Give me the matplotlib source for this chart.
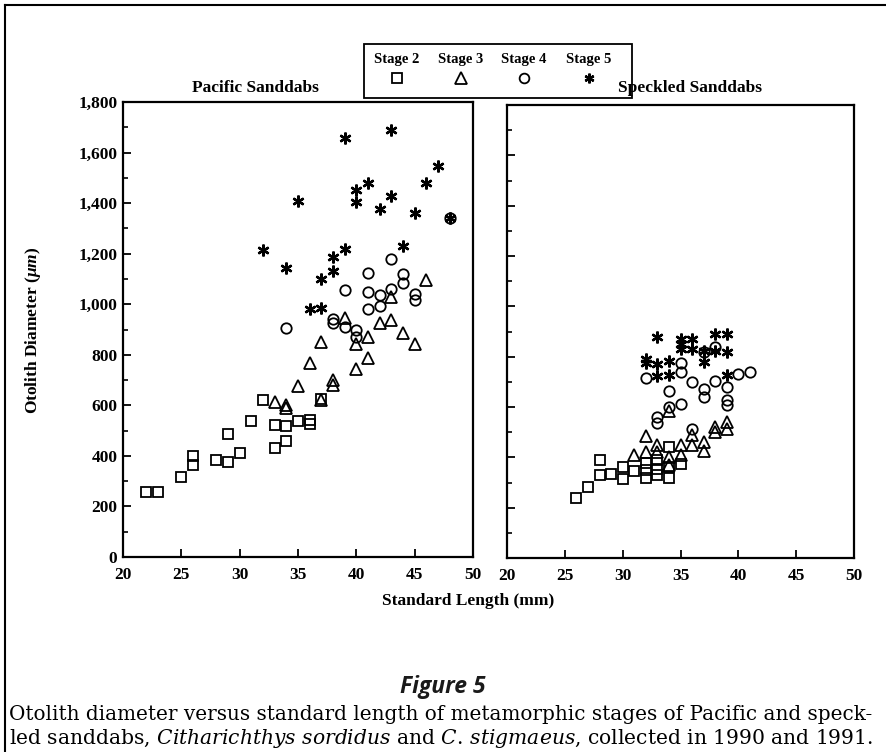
import matplotlib
matplotlib.use("Agg")
import matplotlib.pyplot as plt
from matplotlib.lines import Line2D
from matplotlib.patches import Rectangle
from matplotlib.ticker import MultipleLocator, FuncFormatter

# ---------------- data ----------------
pac_s2_x = [22, 23, 25, 26, 26, 28, 29, 29, 30, 31, 32, 33, 33, 34, 34, 35, 36, 36, 37]
pac_s2_y = [258, 258, 315, 400, 364, 383, 374, 486, 410, 539, 620, 523, 430, 460, 519, 539, 541, 528, 627]

pac_s3_x = [33, 34, 34, 35, 36, 37, 37, 38, 38, 39, 40, 40, 41, 41, 42, 43, 43, 44, 45, 46]
pac_s3_y = [613, 601, 588, 676, 766, 849, 620, 700, 680, 946, 841, 742, 871, 789, 926, 937, 1029, 887, 842, 1095]

pac_s4_x = [34, 38, 38, 39, 39, 40, 40, 41, 41, 42, 42, 43, 44, 45, 45, 43, 41, 44, 48]
pac_s4_y = [904, 940, 925, 1055, 908, 900, 869, 1049, 983, 1036, 993, 1062, 1082, 1042, 1016, 1178, 1125, 1121, 1340]

pac_s5_x = [39, 43, 47, 46, 41, 40, 40, 35, 43, 42, 45, 32, 34, 39, 38, 38, 37, 44, 36, 37, 48]
pac_s5_y = [1657, 1688, 1547, 1480, 1480, 1453, 1404, 1408, 1428, 1375, 1361, 1213, 1145, 1217, 1185, 1132, 1099, 1229, 983, 987, 1340]

spk_s2_x = [26, 27, 28, 28, 29, 30, 30, 31, 32, 32, 32, 33, 33, 33, 34, 34, 34, 35]
spk_s2_y = [240, 283, 388, 329, 335, 362, 313, 346, 378, 349, 316, 391, 355, 329, 441, 362, 316, 375]

spk_s3_x = [31, 32, 32, 33, 33, 34, 34, 35, 35, 36, 36, 37, 37, 38, 38, 39, 39, 34]
spk_s3_y = [408, 483, 421, 448, 421, 401, 368, 448, 408, 448, 487, 461, 425, 520, 500, 540, 513, 586]

spk_s4_x = [32, 33, 33, 34, 34, 35, 35, 35, 36, 37, 37, 38, 38, 37, 39, 39, 39, 40, 41, 36]
spk_s4_y = [716, 560, 536, 599, 663, 613, 738, 775, 698, 672, 639, 705, 837, 817, 681, 628, 606, 731, 741, 514]

spk_s5_x = [33, 32, 32, 33, 33, 34, 34, 35, 35, 35, 36, 36, 37, 37, 38, 38, 39, 39, 39]
spk_s5_y = [879, 791, 774, 771, 725, 784, 729, 870, 850, 830, 870, 830, 824, 778, 892, 824, 892, 817, 729]

stage_labels = ["Stage 2", "Stage 3", "Stage 4", "Stage 5"]
panel_titles = ["Pacific Sanddabs", "Speckled Sanddabs"]
x_ticks = [20, 25, 30, 35, 40, 45, 50]
y_ticks = [0, 200, 400, 600, 800, 1000, 1200, 1400, 1600, 1800]

# ---------------- style ----------------
plt.rcParams["font.family"] = ["Liberation Serif", "DejaVu Serif"]
plt.rcParams["mathtext.fontset"] = "custom"
plt.rcParams["mathtext.rm"] = "DejaVu Serif"
plt.rcParams["mathtext.it"] = "DejaVu Serif:italic"
plt.rcParams["mathtext.bf"] = "Liberation Serif:bold"
plt.rcParams["mathtext.bfit"] = "Liberation Serif:bold:italic"

W, H = 886, 752
fig = plt.figure(figsize=(W / 100, H / 100), dpi=100)

def fx(px):
    return px / W

def fy(py):
    return 1 - py / H

ax1 = fig.add_axes([fx(123), fy(557), fx(473) - fx(123), fy(102) - fy(557)])
ax2 = fig.add_axes([fx(507), fy(558), fx(854) - fx(507), fy(105) - fy(558)])

mk = dict(linestyle="none", markerfacecolor="none", markeredgecolor="black", markeredgewidth=1.3)
star = dict(linestyle="none", color="black", markeredgewidth=1.7)

def draw(ax, s2x, s2y, s3x, s3y, s4x, s4y, s5x, s5y):
    ax.plot(s2x, s2y, marker="s", markersize=7.8, **mk)
    ax.plot(s3x, s3y, marker="^", markersize=9, **mk)
    ax.plot(s4x, s4y, marker="o", markersize=7.5, **mk)
    ax.plot(s5x, s5y, marker=(6, 2, 0), markersize=8.5, **star)

draw(ax1, pac_s2_x, pac_s2_y, pac_s3_x, pac_s3_y, pac_s4_x, pac_s4_y, pac_s5_x, pac_s5_y)
draw(ax2, spk_s2_x, spk_s2_y, spk_s3_x, spk_s3_y, spk_s4_x, spk_s4_y, spk_s5_x, spk_s5_y)

fmt = FuncFormatter(lambda v, p: f"{int(v):,}")
for i, ax in enumerate((ax1, ax2)):
    ax.set_xlim(20, 50)
    ax.set_ylim(0, 1800)
    ax.set_xticks(x_ticks)
    ax.set_yticks(y_ticks)
    ax.yaxis.set_minor_locator(MultipleLocator(100))
    ax.tick_params(axis="both", which="major", direction="in", length=6, width=1.3,
                   labelsize=12.5, pad=4)
    ax.tick_params(axis="y", which="minor", direction="in", length=3.5, width=1.2)
    ax.tick_params(axis="x", pad=7)
    for s in ax.spines.values():
        s.set_linewidth(1.6)
    for lab in ax.get_xticklabels() + ax.get_yticklabels():
        lab.set_fontweight("bold")
    ax.yaxis.set_major_formatter(fmt)
    if i == 1:
        ax.tick_params(axis="y", labelleft=False)

# panel titles
fig.text(fx(255), fy(88), panel_titles[0], ha="center", va="center", fontsize=12.5, fontweight="bold")
fig.text(fx(690), fy(88), panel_titles[1], ha="center", va="center", fontsize=12.5, fontweight="bold")

# axis labels
fig.text(fx(33), fy(330), r"Otolith Diameter ($\mathbfit{μm}$)", rotation=90, ha="center", va="center",
         fontsize=12.5, fontweight="bold")
fig.text(fx(468), fy(601), "Standard Length (mm)", ha="center", va="center", fontsize=12.5, fontweight="bold")

# legend box
fig.add_artist(Rectangle((fx(364), fy(98)), fx(632) - fx(364), fy(44) - fy(98), transform=fig.transFigure,
                         fill=False, edgecolor="black", linewidth=1.3))
leg_x = [397, 461, 524, 589]
leg_m = [dict(marker="s", markersize=7, **mk), dict(marker="^", markersize=8, **mk),
         dict(marker="o", markersize=7, **mk), dict(marker=(6, 2, 0), markersize=7, **star)]
for lx, lab, m in zip(leg_x, stage_labels, leg_m):
    fig.text(fx(lx), fy(59), lab, ha="center", va="center", fontsize=10.5, fontweight="bold")
    fig.add_artist(Line2D([fx(lx)], [fy(78)], transform=fig.transFigure, **m))

# outer frame
fig.add_artist(Line2D([fx(5), fx(5)], [0, fy(5)], transform=fig.transFigure, color="black", linewidth=1.5))
fig.add_artist(Line2D([fx(5), 1], [fy(5), fy(5)], transform=fig.transFigure, color="black", linewidth=1.5))

# Figure caption
fig.text(fx(443), fy(687), "Figure 5", ha="center", va="center", fontsize=16.5, fontweight="bold",
         fontstyle="italic", family=["Open Sans", "DejaVu Sans"], color="#1a1a1a")

line1 = "Otolith diameter versus standard length of metamorphic stages of Pacific and speck-"
line2 = (r"led sanddabs, $\mathit{Citharichthys\ sordidus}$ and $\mathit{C.\,stigmaeus}$, "
         "collected in 1990 and 1991.")
fig.canvas.draw()
r = fig.canvas.get_renderer()
for txt, py, target in ((line1, 715, 858), (line2, 738, 862)):
    t = fig.text(fx(9), fy(py), txt, ha="left", va="center", fontsize=12, family="DejaVu Serif")
    w = t.get_window_extent(r).width
    t.set_fontsize(12 * target / w)

fig.savefig("out.png", dpi=100)
